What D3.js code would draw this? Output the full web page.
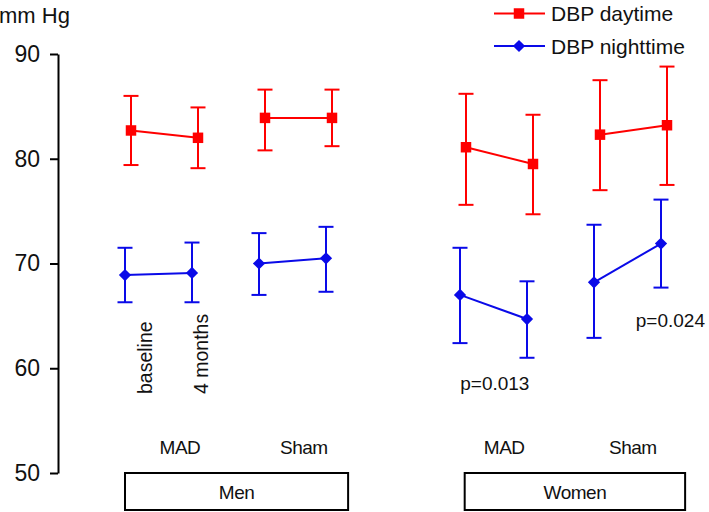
<!DOCTYPE html>
<html>
<head>
<meta charset="utf-8">
<script src="https://cdn.jsdelivr.net/npm/d3@7"></script>
<style>
  html, body { margin: 0; padding: 0; background: #fff; }
  svg { display: block; font-family: "Liberation Sans", Arial, sans-serif; }
</style>
</head>
<body>
<svg id="chart" width="709" height="512"></svg>
<script>
// ---- data ----
const yTicks = [50, 60, 70, 80, 90];
const xIndex = [0, 1, 2, 3, 5, 6, 7, 8];          // Men MAD b/4m, Men Sham b/4m, Women MAD b/4m, Women Sham b/4m
const pairs = [[0, 1], [2, 3], [4, 5], [6, 7]];
const dayMean  = [82.7, 82.0, 83.9, 83.9, 81.1, 79.5, 82.3, 83.2];
const dayUpper = [86.0, 84.9, 86.6, 86.6, 86.2, 84.2, 87.5, 88.8];
const dayLower = [79.4, 79.1, 80.8, 81.2, 75.6, 74.7, 77.0, 77.5];
const nightMean  = [68.9, 69.1, 70.0, 70.5, 67.0, 64.7, 68.2, 71.9];
const nightUpper = [71.5, 72.0, 72.9, 73.5, 71.5, 68.3, 73.7, 76.1];
const nightLower = [66.3, 66.3, 67.0, 67.3, 62.4, 61.0, 62.9, 67.7];
const groupLabels = ["MAD", "Sham", "MAD", "Sham"];
const groupLabelPos = [0.82, 2.67, 5.66, 7.58];
const sexLabels = ["Men", "Women"];
const sexBoxRange = [[0.0, 3.33], [5.07, 8.36]];
const timeLabels = ["baseline", "4 months"];
const timeLabelPos = [0.41, 1.24];
const pLabels = ["p=0.013", "p=0.024"];
const pLabelPos = [[5.52, 57.9], [8.14, 63.9]];
const seriesNames = ["DBP daytime", "DBP nighttime"];

// ---- drawing ----
const svg = d3.select("#chart");
const x = d3.scaleLinear().domain([0, 8]).range([125, 661]);
const y = d3.scaleLinear().domain([50, 90]).range([473, 54]);
const RED = "#ff0000", BLUE = "#0a0ae8";
const markers = {
  square: { type: d3.symbolSquare, size: 110, rot: 0 },
  diamond: { type: d3.symbolSquare, size: 75, rot: 45 }
};

// y axis
const yAxis = svg.append("g")
  .attr("transform", "translate(58,0)")
  .call(d3.axisLeft(y).tickValues(yTicks).tickSize(8).tickSizeOuter(0).tickPadding(10));
yAxis.select(".domain").attr("stroke", "#000").attr("stroke-width", 2);
yAxis.selectAll(".tick line").attr("stroke", "#000").attr("stroke-width", 2);
yAxis.selectAll(".tick text").attr("font-size", 23).attr("fill", "#111")
  .attr("font-family", "'Liberation Sans', Arial, sans-serif");

svg.append("text").attr("x", -1).attr("y", 23).attr("font-size", 22).attr("fill", "#111").text("mm Hg");

function drawSeries(mean, upper, lower, color, dx, mk) {
  const g = svg.append("g");
  pairs.forEach(([a, b]) => {
    g.append("line")
      .attr("x1", x(xIndex[a]) + dx).attr("y1", y(mean[a]))
      .attr("x2", x(xIndex[b]) + dx).attr("y2", y(mean[b]))
      .attr("stroke", color).attr("stroke-width", 2);
  });
  mean.forEach((m, i) => {
    const cx = x(xIndex[i]) + dx;
    g.append("line").attr("x1", cx).attr("x2", cx).attr("y1", y(upper[i])).attr("y2", y(lower[i]))
      .attr("stroke", color).attr("stroke-width", 2);
    [upper[i], lower[i]].forEach(v => {
      g.append("line").attr("x1", cx - 7.5).attr("x2", cx + 7.5).attr("y1", y(v)).attr("y2", y(v))
        .attr("stroke", color).attr("stroke-width", 2);
    });
    g.append("path")
      .attr("d", d3.symbol().type(mk.type).size(mk.size)())
      .attr("transform", `translate(${cx},${y(m)}) rotate(${mk.rot})`)
      .attr("fill", color);
  });
}
drawSeries(dayMean, dayUpper, dayLower, RED, 6, markers.square);
drawSeries(nightMean, nightUpper, nightLower, BLUE, 0, markers.diamond);

// rotated time labels
timeLabels.forEach((t, i) => {
  svg.append("text")
    .attr("transform", `translate(${x(timeLabelPos[i])},394) rotate(-90)`)
    .attr("font-size", 19.5).attr("fill", "#111").text(t);
});

// p-value labels
pLabels.forEach((t, i) => {
  svg.append("text").attr("x", x(pLabelPos[i][0])).attr("y", y(pLabelPos[i][1]))
    .attr("text-anchor", "middle").attr("font-size", 19).attr("fill", "#111").text(t);
});

// group labels
groupLabels.forEach((t, i) => {
  svg.append("text").attr("x", x(groupLabelPos[i])).attr("y", 454)
    .attr("text-anchor", "middle").attr("font-size", 19).attr("letter-spacing", -0.5)
    .attr("fill", "#111").text(t);
});

// sex boxes
sexLabels.forEach((t, i) => {
  const [a, b] = sexBoxRange[i];
  svg.append("rect").attr("x", x(a)).attr("y", 473).attr("width", x(b) - x(a)).attr("height", 37)
    .attr("fill", "none").attr("stroke", "#000").attr("stroke-width", 2);
  svg.append("text").attr("x", (x(a) + x(b)) / 2).attr("y", 499)
    .attr("text-anchor", "middle").attr("font-size", 19).attr("letter-spacing", -0.5)
    .attr("fill", "#111").text(t);
});

// legend
const legend = svg.append("g");
[[RED, markers.square, 13.5], [BLUE, markers.diamond, 46]].forEach(([c, mk, ly], i) => {
  legend.append("line").attr("x1", 494).attr("x2", 545).attr("y1", ly).attr("y2", ly)
    .attr("stroke", c).attr("stroke-width", 2);
  legend.append("path").attr("d", d3.symbol().type(mk.type).size(mk.size)())
    .attr("transform", `translate(519,${ly}) rotate(${mk.rot})`).attr("fill", c);
  legend.append("text").attr("x", 551).attr("y", ly + 7.5).attr("font-size", 21).attr("fill", "#111")
    .text(seriesNames[i]);
});
</script>
</body>
</html>
